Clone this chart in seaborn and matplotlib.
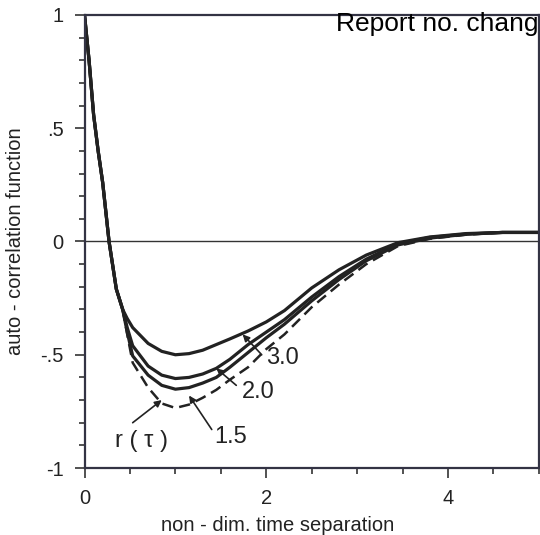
import matplotlib
matplotlib.use("Agg")
import matplotlib.pyplot as plt
import numpy as np
import pandas as pd
import seaborn as sns

# ---- data ----
tau = [0, 0.05, 0.1, 0.15, 0.2, 0.27, 0.35, 0.42, 0.47, 0.53, 0.7, 0.85, 1.0,
       1.15, 1.3, 1.45, 1.6, 1.8, 2.0, 2.2, 2.5, 2.8, 3.1, 3.45, 3.8, 4.2,
       4.6, 5.0]
common = [1.0, 0.80, 0.56, 0.40, 0.26, 0.0, -0.21, -0.30]
r_30 = [-0.34, -0.38, -0.45, -0.485, -0.50, -0.495, -0.48, -0.455, -0.43,
        -0.395, -0.355, -0.305, -0.205, -0.125, -0.06, -0.005, 0.02, 0.035,
        0.04, 0.04]
r_20 = [-0.38, -0.46, -0.55, -0.59, -0.605, -0.60, -0.585, -0.56, -0.52,
        -0.455, -0.40, -0.345, -0.245, -0.155, -0.078, -0.01, 0.018, 0.033,
        0.04, 0.04]
r_15 = [-0.40, -0.505, -0.59, -0.635, -0.652, -0.645, -0.625, -0.60, -0.555,
        -0.49, -0.425, -0.365, -0.262, -0.168, -0.085, -0.015, 0.015, 0.032,
        0.04, 0.04]
r_tau = [-0.41, -0.535, -0.645, -0.715, -0.735, -0.72, -0.69, -0.655, -0.61,
         -0.555, -0.475, -0.41, -0.29, -0.19, -0.10, -0.02, 0.012, 0.03,
         0.04, 0.04]

series = {"3.0": r_30, "2.0": r_20, "1.5": r_15, "r(τ)": r_tau}
xticks = [0, 2, 4]
yticks = [-1, -0.5, 0, 0.5, 1]
ytick_labels = ["-1", "-.5", "0", ".5", "1"]
xlabel = "non - dim. time separation"
ylabel = "auto - correlation function"
corner_text = "Report no. chang"

labels = [  # (text, text left/centre-y, arrow tail, arrow tip)
    ("3.0", (2.00, -0.515), (1.95, -0.50), (1.74, -0.41)),
    ("2.0", (1.73, -0.665), (1.67, -0.635), (1.45, -0.56)),
    ("1.5", (1.43, -0.865), (1.40, -0.83), (1.15, -0.68)),
    ("r ( τ )", (0.33, -0.88), (0.53, -0.80), (0.85, -0.70)),
]

rows = []
for name, vals in series.items():
    ys = common + vals
    for x, y in zip(tau, ys):
        rows.append({"tau": x, "r": y, "curve": name})
df = pd.DataFrame(rows)

sns.set_style("ticks")
plt.rcParams["font.family"] = ["Liberation Sans", "DejaVu Sans"]

fig = plt.figure(figsize=(5.40, 5.35), dpi=100)
ax = fig.add_axes([0.1565, 0.1252, 0.998 - 0.1565, 0.972 - 0.1252])

for name in series:
    sub = df[df["curve"] == name]
    if name == "r(τ)":
        sns.lineplot(data=sub, x="tau", y="r", ax=ax, color="#222222",
                     linewidth=1.8, linestyle=(0, (4.5, 2.5)), sort=False)
    else:
        sns.lineplot(data=sub, x="tau", y="r", ax=ax, color="#222222",
                     linewidth=2.3, sort=False)

ax.axhline(0, color="#333333", linewidth=1.0, zorder=0)

ax.set_xlim(0, 5)
ax.set_ylim(-1, 1)
ax.set_xticks(xticks)
ax.set_xticklabels([str(t) for t in xticks])
ax.set_xticks(np.arange(0, 5.01, 0.5), minor=True)
ax.set_yticks(yticks)
ax.set_yticklabels(ytick_labels)
ax.set_yticks(np.arange(-1, 1.001, 0.1), minor=True)

ax.tick_params(axis="both", which="major", direction="out", length=7, width=1.2,
               labelsize=14.5, color="#333333", labelcolor="#222222")
ax.tick_params(axis="both", which="minor", direction="out", length=4, width=1.2,
               color="#333333")
ax.tick_params(axis="x", which="major", pad=8)
ax.tick_params(axis="y", which="major", pad=8)

for side in ["left", "bottom", "top", "right"]:
    ax.spines[side].set_visible(True)
    ax.spines[side].set_linewidth(1.6)
    ax.spines[side].set_color("#333344")

ax.set_xlabel(xlabel, fontsize=14.5, color="#222222")
ax.xaxis.set_label_coords(0.426, -0.105)
ax.set_ylabel(ylabel, fontsize=14.5, color="#222222")
ax.yaxis.set_label_coords(-0.132, 0.5)

for text, (tx, ty), tail, tip in labels:
    ax.text(tx, ty, text, fontsize=17, color="#222222", ha="left", va="center")
    ax.annotate("", xy=tip, xytext=tail,
                arrowprops=dict(arrowstyle="-|>", color="#222222", lw=1.2,
                                shrinkA=0, shrinkB=0, mutation_scale=10))

fig.text(0.998, 0.978, corner_text, ha="right", va="top", fontsize=19,
         color="black")

fig.savefig("out.png", dpi=100)
